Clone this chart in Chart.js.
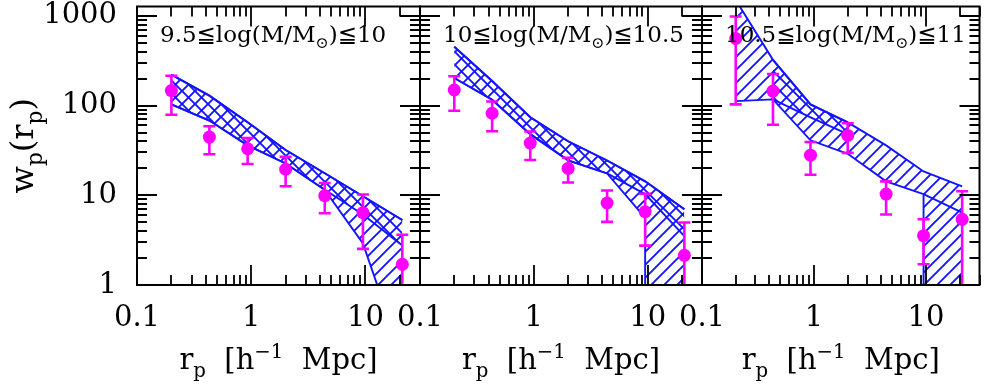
<!DOCTYPE html>
<html><head><meta charset="utf-8">
<script src="https://cdn.jsdelivr.net/npm/chart.js@4.4.1/dist/chart.umd.min.js"></script>
<style>
html,body{margin:0;padding:0;background:#fff;}
#wrap{position:relative;width:986px;height:385px;background:#fff;}
canvas{position:absolute;left:0;top:0;}
</style></head><body>
<div id="wrap">
<canvas id="c1" width="986" height="385"></canvas>
<canvas id="c2" width="986" height="385"></canvas>
<canvas id="c3" width="986" height="385"></canvas>
</div>
<script>
// ---------------- data ----------------
const rp = [0.2, 0.43, 0.93, 2.0, 4.4, 9.5, 21];          // r_p [h^-1 Mpc]
const xTickLabels = ['0.1', '1', '10'];
const yTickLabels = ['1', '10', '100', '1000'];
const xRange = [0.1, 30];
const yRange = [1, 1270];

// Panel 1 : 9.5 <= log(M/Msun) <= 10
const p1Wp    = [147, 44.5, 33, 19.5, 9.9, 6.4, 1.70];
const p1ErrHi = [215, 58.8, 43.4, 26.8, 13.7, 10.2, 3.63];
const p1ErrLo = [79, 28.7, 22.3, 12.6, 6.3, 2.53, 0.5];
const p1UpperA = [221, 129, 65, 32, 17.6, 9.75, 5.3];
const p1LowerA = [103, 68, 36, 22.6, 11.5, 2.9, 0.155];
const p1UpperB = [221, 129, 65, 32, 17.6, 9.75, 5.3];
const p1LowerB = [103, 68, 36, 22.6, 11.5, 6.1, 2.75];
const p1Edge   = [null, null, null, null, null, null, null];

// Panel 2 : 10 <= log(M/Msun) <= 10.5
const p2Wp    = [149, 82, 38.2, 19.9, 8.2, 6.56, 2.14];
const p2ErrHi = [212, 111, 51.4, 26.2, 11.3, 10.4, 4.97];
const p2ErrLo = [87.5, 51.8, 24.7, 13.9, 5.05, 2.75, 0.5];
const p2UpperA = [453, 188, 74, 40, 24.4, 14.3, 7.0];
const p2LowerA = [203, 116, 48, 24.5, 17.5, 5.6, 0];      // 0 : falls below the plot
const p2UpperB = [453, 188, 74, 40, 24.4, 14.3, 7.0];
const p2LowerB = [203, 116, 48, 24.5, 17.5, 10.3, 3.5];
const p2Edge   = [null, null, null, null, null, null, null];

// Panel 3 : 10.5 <= log(M/Msun) <= 11
const p3Wp    = [559, 145, 28, 46.4, 10.3, 3.55, 5.4];
const p3ErrHi = [984, 225, 39.2, 63.4, 14.3, 5.4, 11.1];
const p3ErrLo = [103, 61, 16.9, 29.7, 6.1, 1.7, 0.5];
const p3UpperA = [1500, 323, 103, 65, 36, 18.4, 12.6];
const p3LowerA = [112, 117, 41, 29, 14.3, 10.3, 0];
const p3UpperB = [null, 323, 103, 65, null, null, null];
const p3LowerB = [null, 117, 74, 48, null, null, null];
const p3Edge   = [null, null, null, null, null, 10.3, 6.4];

const panelTitles = [
  [['9.5≦log(M/M'], ['⊙', 'sub'], [')≦10']],
  [['10≦log(M/M'], ['⊙', 'sub'], [')≦10.5']],
  [['10.5≦log(M/M'], ['⊙', 'sub'], [')≦11']]
];
const xTitle = [['r'], ['p', 'sub'], ['  [h'], ['−1', 'sup'], ['  Mpc]']];
const yTitle = [['w'], ['p', 'sub'], ['(r'], ['p', 'sub'], [')']];

// ---------------- style ----------------
const BLUE = '#1414ff';
const MAGENTA = '#ff00ff';
const FONT = "'DejaVu Serif', 'DejaVu Sans', serif";
const FLOOR = 1e-4;

function hatch(dir) {
  const s = 13;
  const c = document.createElement('canvas');
  c.width = s; c.height = s;
  const g = c.getContext('2d');
  g.strokeStyle = BLUE; g.lineWidth = 1.9; g.lineCap = 'square';
  g.beginPath();
  if (dir > 0) {
    g.moveTo(0, s); g.lineTo(s, 0);
    g.moveTo(-s / 2, s / 2); g.lineTo(s / 2, -s / 2);
    g.moveTo(s / 2, 1.5 * s); g.lineTo(1.5 * s, s / 2);
  } else {
    g.moveTo(0, 0); g.lineTo(s, s);
    g.moveTo(-s / 2, s / 2); g.lineTo(s / 2, 1.5 * s);
    g.moveTo(s / 2, -s / 2); g.lineTo(1.5 * s, s / 2);
  }
  g.stroke();
  return g.createPattern(c, 'repeat');
}

function pts(vals) {
  const out = [];
  for (let i = 0; i < rp.length; i++) {
    const v = vals[i];
    if (v === null) { out.push({x: rp[i], y: null}); continue; }
    if (v <= 0) {
      if (i > 0 && vals[i - 1] > 0) out.push({x: rp[i - 1], y: FLOOR});
      out.push({x: rp[i], y: FLOOR});
    } else out.push({x: rp[i], y: v});
  }
  return out;
}

function drawRich(ctx, segs, size, x, y, align, rotate) {
  ctx.save();
  ctx.fillStyle = '#000';
  ctx.textBaseline = 'alphabetic';
  ctx.textAlign = 'left';
  const items = segs.map(([t, k]) => {
    const sz = k ? size * 0.68 : size;
    ctx.font = sz + 'px ' + FONT;
    return {t, k, sz, w: ctx.measureText(t).width};
  });
  const W = items.reduce((a, b) => a + b.w, 0);
  ctx.translate(x, y);
  if (rotate) ctx.rotate(-Math.PI / 2);
  let cx = align === 'center' ? -W / 2 : 0;
  for (const it of items) {
    ctx.font = it.sz + 'px ' + FONT;
    const dy = it.k === 'sub' ? size * 0.28 : it.k === 'sup' ? -size * 0.38 : 0;
    ctx.fillText(it.t, cx, dy);
    cx += it.w;
  }
  ctx.restore();
}

const panels = [
  {id: 'c1', left: 137, right: 420, wp: p1Wp, hi: p1ErrHi, lo: p1ErrLo, upA: p1UpperA, loA: p1LowerA, upB: p1UpperB, loB: p1LowerB, edge: p1Edge, title: panelTitles[0], yAxis: true},
  {id: 'c2', left: 420, right: 702, wp: p2Wp, hi: p2ErrHi, lo: p2ErrLo, upA: p2UpperA, loA: p2LowerA, upB: p2UpperB, loB: p2LowerB, edge: p2Edge, title: panelTitles[1], yAxis: false},
  {id: 'c3', left: 702, right: 984, wp: p3Wp, hi: p3ErrHi, lo: p3ErrLo, upA: p3UpperA, loA: p3LowerA, upB: p3UpperB, loB: p3LowerB, edge: p3Edge, title: panelTitles[2], yAxis: false}
];

function decoPlugin(P) {
  return {
    id: 'deco' + P.id,
    afterDatasetsDraw(chart) {
      const ctx = chart.ctx, xs = chart.scales.x, ys = chart.scales.y, a = chart.chartArea;
      // error bars
      ctx.save();
      ctx.beginPath(); ctx.rect(a.left, a.top, a.right - a.left, a.bottom - a.top); ctx.clip();
      ctx.strokeStyle = MAGENTA; ctx.lineWidth = 2.6; ctx.lineCap = 'butt';
      for (let i = 0; i < rp.length; i++) {
        const px = xs.getPixelForValue(rp[i]);
        const yh = ys.getPixelForValue(P.hi[i]);
        const yl = ys.getPixelForValue(P.lo[i]);
        ctx.beginPath();
        ctx.moveTo(px, yh); ctx.lineTo(px, yl);
        ctx.moveTo(px - 6, yh); ctx.lineTo(px + 6, yh);
        ctx.moveTo(px - 6, yl); ctx.lineTo(px + 6, yl);
        ctx.stroke();
      }
      ctx.restore();
    },
    afterDraw(chart) {
      const ctx = chart.ctx, xs = chart.scales.x, ys = chart.scales.y, a = chart.chartArea;
      ctx.save();
      ctx.strokeStyle = '#000';
      // frame
      ctx.lineWidth = 2;
      ctx.strokeRect(a.left, a.top, a.right - a.left, a.bottom - a.top);
      // inward ticks
      ctx.lineWidth = 1.8;
      ctx.beginPath();
      for (let d = -1; d <= 1; d++) {
        for (let m = 1; m <= 9; m++) {
          const v = m * Math.pow(10, d);
          if (v < xRange[0] * 0.999 || v > xRange[1] * 1.001) continue;
          const px = Math.round(xs.getPixelForValue(v));
          const len = m === 1 ? 20 : 10;
          ctx.moveTo(px, a.bottom); ctx.lineTo(px, a.bottom - len);
          ctx.moveTo(px, a.top); ctx.lineTo(px, a.top + len);
        }
      }
      for (let d = 0; d <= 3; d++) {
        for (let m = 1; m <= 9; m++) {
          const v = m * Math.pow(10, d);
          if (v < yRange[0] * 0.999 || v > yRange[1] * 1.001) continue;
          const py = Math.round(ys.getPixelForValue(v));
          const len = m === 1 ? 20 : 10;
          ctx.moveTo(a.left, py); ctx.lineTo(a.left + len, py);
          ctx.moveTo(a.right, py); ctx.lineTo(a.right - len, py);
        }
      }
      ctx.stroke();
      ctx.restore();
      // texts
      drawRich(ctx, P.title, 23, a.left + 23, a.top + 35, 'left', false);
      drawRich(ctx, xTitle, 29, (a.left + a.right) / 2, 369, 'center', false);
      if (P.yAxis) drawRich(ctx, yTitle, 32, 33, (a.top + a.bottom) / 2, 'center', true);
    }
  };
}

const patA = hatch(1), patB = hatch(-1);

for (const P of panels) {
  const datasets = [
    {data: rp.map((x, i) => ({x, y: P.wp[i]})), showLine: false, pointRadius: 6.5, pointHoverRadius: 6.5,
     pointBackgroundColor: MAGENTA, pointBorderColor: MAGENTA, pointBorderWidth: 0, borderColor: MAGENTA},
    {data: pts(P.upA), borderColor: BLUE, borderWidth: 1.9, pointRadius: 0, fill: false},
    {data: pts(P.loA), borderColor: BLUE, borderWidth: 1.9, pointRadius: 0, fill: '-1', backgroundColor: patA},
    {data: pts(P.upB), borderColor: BLUE, borderWidth: 1.9, pointRadius: 0, fill: false},
    {data: pts(P.loB), borderColor: BLUE, borderWidth: 1.9, pointRadius: 0, fill: '-1', backgroundColor: patB},
    {data: pts(P.edge), borderColor: BLUE, borderWidth: 1.9, pointRadius: 0, fill: false}
  ];
  new Chart(document.getElementById(P.id), {
    type: 'line',
    data: {datasets},
    options: {
      responsive: false, animation: false, devicePixelRatio: 1, events: [],
      layout: {padding: {left: P.yAxis ? 0 : P.left, right: 986 - P.right, top: 3, bottom: 0}},
      plugins: {legend: {display: false}, tooltip: {enabled: false}},
      scales: {
        x: {
          type: 'logarithmic', min: xRange[0], max: xRange[1], position: 'bottom',
          grid: {display: false, drawTicks: false}, border: {display: false},
          afterFit: (s) => { s.height = 100; s.paddingLeft = 0; s.paddingRight = 0; },
          ticks: {autoSkip: false, maxRotation: 0, padding: 16, color: '#000',
                  font: {family: FONT, size: 29},
                  callback: (v) => xTickLabels.includes(String(v)) ? String(v) : ''}
        },
        y: {
          type: 'logarithmic', min: yRange[0], max: yRange[1], position: 'left', display: P.yAxis,
          grid: {display: false, drawTicks: false}, border: {display: false},
          afterFit: (s) => { s.width = P.yAxis ? P.left : 0; s.paddingTop = 0; s.paddingBottom = 0; },
          ticks: {autoSkip: false, padding: 20, color: '#000',
                  font: {family: FONT, size: 29},
                  callback: (v) => yTickLabels.includes(String(v)) ? String(v) : ''}
        }
      }
    },
    plugins: [decoPlugin(P)]
  });
}
</script>
</body></html>
